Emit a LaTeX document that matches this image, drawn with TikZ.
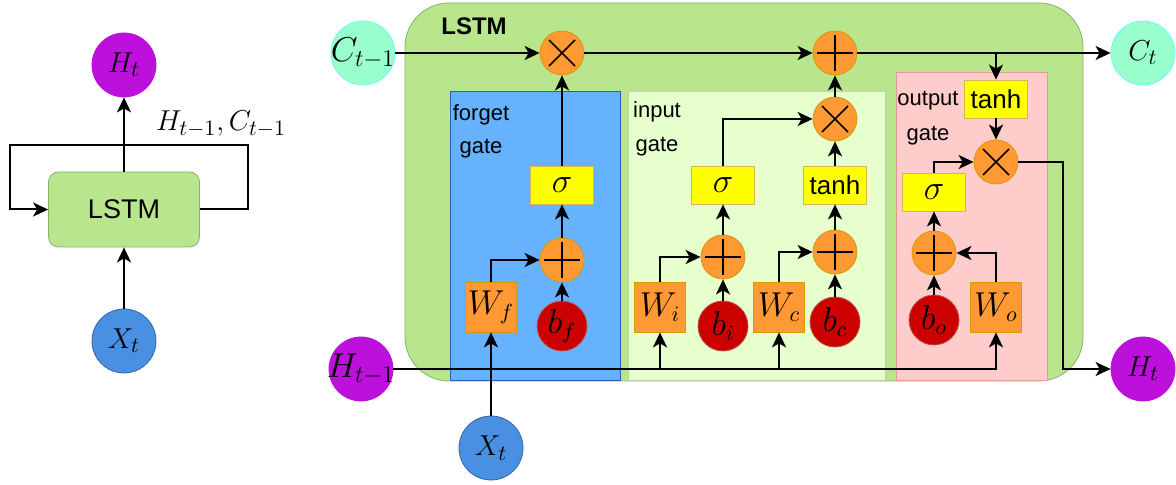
\documentclass[tikz,border=0pt]{standalone}
\usepackage{fontspec}
\newfontfamily\arial{Liberation Sans}
\usetikzlibrary{arrows.meta}

\definecolor{verde}{RGB}{185,230,140}
\definecolor{verdeb}{RGB}{130,179,102}
\definecolor{verdec}{RGB}{230,255,204}
\definecolor{azul}{RGB}{102,178,255}
\definecolor{azulb}{RGB}{30,100,190}
\definecolor{rosa}{RGB}{255,204,204}
\definecolor{rosab}{RGB}{240,150,150}
\definecolor{naranja}{RGB}{255,153,51}
\definecolor{naranjab}{RGB}{215,155,0}
\definecolor{amarillo}{RGB}{255,255,0}
\definecolor{amarillob}{RGB}{214,182,86}
\definecolor{rojo}{RGB}{204,0,0}
\definecolor{rojob}{RGB}{184,84,80}
\definecolor{morado}{RGB}{190,16,220}
\definecolor{azulx}{RGB}{74,144,226}
\definecolor{azulxb}{RGB}{50,100,170}
\definecolor{menta}{RGB}{153,255,204}
\definecolor{mentab}{RGB}{102,255,255}

\begin{document}
\begin{tikzpicture}[x=0.5pt, y=-0.5pt,
    flecha/.style={line width=1pt, -{Stealth[length=7.5pt, width=7pt, inset=2pt]}},
    circ/.style={draw, circle, inner sep=0pt, minimum size=32pt, font=\fontsize{15}{17}\selectfont},
    suma/.style={draw=naranjab, fill=naranja, circle, inner sep=0pt, minimum size=22pt,
        path picture={\draw[black, line width=0.8pt] ([yshift=9pt]path picture bounding box.center) -- ([yshift=-9pt]path picture bounding box.center)
            ([xshift=-9pt]path picture bounding box.center) -- ([xshift=9pt]path picture bounding box.center);}},
    prod/.style={draw=naranjab, fill=naranja, circle, inner sep=0pt, minimum size=22pt,
        path picture={\draw[black, line width=0.8pt] ([shift={(-6.5pt,-6.5pt)}]path picture bounding box.center) -- ([shift={(6.5pt,6.5pt)}]path picture bounding box.center)
            ([shift={(-6.5pt,6.5pt)}]path picture bounding box.center) -- ([shift={(6.5pt,-6.5pt)}]path picture bounding box.center);}},
    peso/.style={draw=naranjab, fill=naranja, minimum width=25.5pt, minimum height=25pt, inner sep=0pt, font=\fontsize{16}{18}\selectfont},
    sesgo/.style={draw=rojob, fill=rojo, circle, minimum size=25pt, inner sep=0pt, font=\fontsize{16}{18}\selectfont},
    activ/.style={draw=amarillob, fill=amarillo, minimum width=31.5pt, minimum height=19pt, inner sep=0pt, font=\fontsize{16}{18}\selectfont},
    etiq/.style={inner sep=0pt, font=\arial\fontsize{11}{13}\selectfont}]
    \useasboundingbox (0,0) rectangle (1176,485);

    % Diagrama compacto
    \node[draw=verdeb, fill=verde, rounded corners=5pt, minimum width=75.5pt, minimum height=37.5pt, font=\arial\fontsize{13.5}{16}\selectfont] (lstm) at (124,209.5) {LSTM};
    \node[circ, fill=morado, draw=morado] (ht0) at (124,65) {$H_t$};
    \node[circ, fill=azulx, draw=azulxb] (xt0) at (124,341) {$X_t$};
    \node[font=\fontsize{15.5}{17}\selectfont] (estado) at (221,124) {$H_{t-1}, C_{t-1}$};
    \coordinate (lazo1) at (248,145);
    \coordinate (lazo2) at (10,145);
    \draw[flecha] (xt0) -- (lstm);
    \draw[flecha] (lstm) -- (ht0);
    \draw[flecha] (lstm.east) -| (lazo1) -- (lazo2) |- (lstm.west);

    % Celda LSTM
    \draw[draw=verdeb, fill=verde, rounded corners=22pt] (405,3) rectangle (1083,381);
    \draw[draw=azulb, fill=azul] (450,91) rectangle (620,380);
    \draw[draw=verde!80!black!60, fill=verdec] (628,91) rectangle (885,380);
    \draw[draw=rosab, fill=rosa] (896,72) rectangle (1047,380);
    \node[font=\arial\bfseries\fontsize{12}{14}\selectfont] (titulo) at (474,26) {LSTM};

    \node[circ, fill=menta, draw=mentab, label={[font=\fontsize{16.5}{18}\selectfont]center:$C_{t-1}$}] (ct1) at (363,53) {};
    \node[circ, fill=morado, draw=morado, label={[font=\fontsize{16.5}{18}\selectfont]center:$H_{t-1}$}] (ht1) at (361,369) {};
    \node[circ, fill=menta, draw=mentab] (ct) at (1143,53) {$C_t$};
    \node[circ, fill=morado, draw=morado] (ht) at (1143,369) {$H_t$};
    \node[circ, fill=azulx, draw=azulxb] (xt) at (491,448) {$X_t$};

    % forget gate
    \node[etiq] (olv1) at (481,115) {forget};
    \node[etiq] (olv2) at (481,149) {gate};
    \node[prod] (multf) at (562,53) {};
    \node[activ] (sigf) at (562,185) {$\sigma$};
    \node[suma] (sumf) at (562,260) {};
    \node[peso] (wf) at (491,307) {$W_f$};
    \node[sesgo] (bf) at (562,326) {$b_f$};

    % input gate
    \node[etiq] (ent1) at (657,112) {input};
    \node[etiq] (ent2) at (657,147) {gate};
    \node[suma] (sumc) at (835,53) {};
    \node[prod] (multi) at (835,119) {};
    \node[activ] (sigi) at (723,185) {$\sigma$};
    \node[activ, font=\arial\fontsize{13}{15}\selectfont] (tanhc) at (835,185) {tanh};
    \node[suma] (sumi) at (723,257) {};
    \node[suma] (sumcc) at (835,252) {};
    \node[peso] (wi) at (660,307) {$W_i$};
    \node[sesgo] (bi) at (723,326) {$b_i$};
    \node[peso] (wc) at (779,307) {$W_c$};
    \node[sesgo] (bc) at (835,322) {$b_c$};

    % output gate
    \node[etiq] (sal1) at (928,101) {output};
    \node[etiq] (sal2) at (928,136) {gate};
    \node[activ, font=\arial\fontsize{13}{15}\selectfont] (tanho) at (996,99) {tanh};
    \node[prod] (multo) at (996,162) {};
    \node[activ] (sigo) at (934,192) {$\sigma$};
    \node[suma] (sumo) at (934,253) {};
    \node[sesgo] (bo) at (934,320) {$b_o$};
    \node[peso] (wo) at (996,307) {$W_o$};
    \coordinate (codo) at (1063,162);

    \draw[flecha] (ct1) -- (multf);
    \draw[flecha] (multf) -- (sumc);
    \draw[flecha] (sumc) -- (ct);
    \draw[flecha] (tanho |- sumc) -- (tanho);
    \draw[flecha] (sigf) -- (multf);
    \draw[flecha] (sumf) -- (sigf);
    \draw[flecha] (bf) -- (sumf);
    \draw[flecha] (wf) |- (sumf);
    \draw[flecha] (xt) -- (wf);
    \draw[flecha] (ht1) -| (wo);
    \draw[flecha] (wi |- ht1) -- (wi);
    \draw[flecha] (wc |- ht1) -- (wc);
    \draw[flecha] (multi) -- (sumc);
    \draw[flecha] (tanhc) -- (multi);
    \draw[flecha] (sigi) |- (multi);
    \draw[flecha] (sumi) -- (sigi);
    \draw[flecha] (sumcc) -- (tanhc);
    \draw[flecha] (bi) -- (sumi);
    \draw[flecha] (bc) -- (sumcc);
    \draw[flecha] (wi) |- (sumi);
    \draw[flecha] (wc) |- (sumcc);
    \draw[flecha] (tanho) -- (multo);
    \draw[flecha] (sigo) |- (multo);
    \draw[flecha] (sumo) -- (sigo);
    \draw[flecha] (bo) -- (sumo);
    \draw[flecha] (wo) |- (sumo);
    \draw[flecha] (multo) -- (codo) |- (ht);
\end{tikzpicture}
\end{document}
